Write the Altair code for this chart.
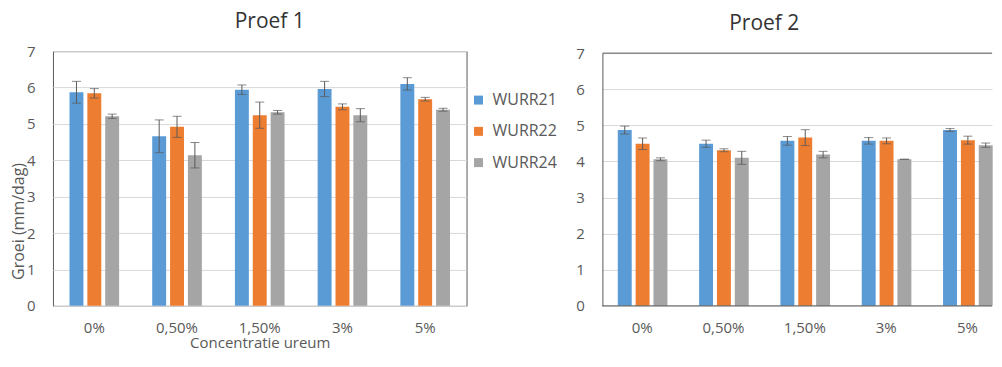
import altair as alt
import pandas as pd

categories = ["0%", "0,50%", "1,50%", "3%", "5%"]
series = ["WURR21", "WURR22", "WURR24"]
colors = ["#5B9BD5", "#ED7D31", "#A5A5A5"]

# Proef 1
p1_wurr21 = [5.87, 4.66, 5.94, 5.96, 6.10]
p1_wurr22 = [5.84, 4.92, 5.24, 5.47, 5.68]
p1_wurr24 = [5.21, 4.14, 5.32, 5.24, 5.39]
p1_err21 = [0.30, 0.45, 0.13, 0.21, 0.17]
p1_err22 = [0.13, 0.29, 0.36, 0.08, 0.05]
p1_err24 = [0.06, 0.35, 0.05, 0.18, 0.04]

# Proef 2
p2_wurr21 = [4.87, 4.49, 4.57, 4.57, 4.87]
p2_wurr22 = [4.49, 4.31, 4.66, 4.57, 4.59]
p2_wurr24 = [4.06, 4.10, 4.19, 4.06, 4.45]
p2_err21 = [0.11, 0.10, 0.12, 0.09, 0.04]
p2_err22 = [0.16, 0.04, 0.22, 0.08, 0.11]
p2_err24 = [0.04, 0.18, 0.09, 0.00, 0.06]

y_ticks = [0, 1, 2, 3, 4, 5, 6, 7]


def build(vals, errs):
    rows = []
    for s, v_list, e_list in zip(series, vals, errs):
        for c, v, e in zip(categories, v_list, e_list):
            rows.append({"conc": c, "ras": s, "v": v, "lo": v - e, "hi": v + e})
    return pd.DataFrame(rows)


df1 = build([p1_wurr21, p1_wurr22, p1_wurr24], [p1_err21, p1_err22, p1_err24])
df2 = build([p2_wurr21, p2_wurr22, p2_wurr24], [p2_err21, p2_err22, p2_err24])

FONT = "Open Sans"
AX = "#595959"
HEIGHT = 255


def panel(df, title, dx, width, left):
    if left:
        x_scale = alt.Scale(paddingInner=0.4, paddingOuter=0.2)
        y_scale = alt.Scale(domain=[0, 7], nice=False)
    else:
        # right panel is cut off by the picture edge: keep the category step
        # of the reference while the plot area ends near the edge
        x_scale = alt.Scale(paddingInner=0.4, paddingOuter=0.0956, align=0.99)
        y_scale = alt.Scale(domain=[0, 7], nice=False, range=[HEIGHT, 2])
    x = alt.X(
        "conc:N", sort=categories, scale=x_scale,
        axis=alt.Axis(
            title="Concentratie ureum" if left else None,
            labelAngle=0, ticks=False, domain=False,
            labelFont=FONT, labelFontSize=15, labelColor=AX, labelPadding=15,
            titleFont=FONT, titleFontSize=15, titleFontWeight="normal",
            titleColor=AX, titlePadding=0,
        ),
    )
    xo = alt.XOffset("ras:N", sort=series, scale=alt.Scale(paddingInner=0.22))
    y_axis_kwargs = dict(
        values=y_ticks, ticks=False, domain=not left, domainColor=AX,
        grid=True, gridColor="#D9D9D9", labelFont=FONT, labelFontSize=15,
        labelColor=AX, labelPadding=18, labelOverlap=False, labelFlush=False,
    )
    if left:
        y_axis = alt.Axis(
            title="Groei (mm/dag)", titleFont=FONT, titleFontSize=16,
            titleFontWeight="normal", titleColor=AX, titleX=-34, titleY=170,
            titleAlign="center", titleBaseline="middle", **y_axis_kwargs,
        )
    else:
        y_axis = alt.Axis(title=None, **y_axis_kwargs)
    y = alt.Y("v:Q", scale=y_scale, axis=y_axis)
    y_lo = alt.Y("lo:Q", scale=y_scale, axis=y_axis)
    y_hi = alt.Y("hi:Q", scale=y_scale, axis=y_axis)

    if left:
        legend = alt.Legend(
            orient="none", legendX=418, legendY=41, title=None,
            symbolType="square", symbolSize=81, symbolStrokeWidth=0,
            labelFont=FONT, labelFontSize=16, labelColor=AX,
            rowPadding=15.3, labelOffset=6, padding=0,
        )
    else:
        legend = None
    color = alt.Color("ras:N", sort=series,
                      scale=alt.Scale(domain=series, range=colors),
                      legend=legend)

    base = alt.Chart(df)
    bars = base.mark_bar().encode(x=x, xOffset=xo, y=y, color=color)
    err = base.mark_rule(color=AX, strokeWidth=1).encode(
        x=x, xOffset=xo, y=y_lo, y2="hi:Q")
    cap_lo = base.mark_tick(color=AX, size=9, thickness=1,
                            orient="horizontal").encode(x=x, xOffset=xo, y=y_lo)
    cap_hi = base.mark_tick(color=AX, size=9, thickness=1,
                            orient="horizontal").encode(x=x, xOffset=xo, y=y_hi)
    layers = [bars, err, cap_lo, cap_hi]
    if not left:
        frame = pd.DataFrame({"edge": [0, 7]})
        border = alt.Chart(frame).mark_rule(color=AX, strokeWidth=1).encode(
            y=alt.Y("edge:Q", scale=y_scale, axis=y_axis),
            x=alt.value(0), x2=alt.value(width))
        layers.append(border)
    view = alt.ViewBackground(stroke=AX, strokeWidth=1) if left else \
        alt.ViewBackground(stroke="transparent")
    return alt.layer(*layers).properties(
        width=width, height=HEIGHT, view=view,
        title=alt.TitleParams(title, font=FONT, fontSize=21,
                              fontWeight="normal", color="#333333",
                              anchor="middle", dx=dx, offset=12.5),
    )


left = panel(df1, "Proef 1", 10, 414, True)
right = panel(df2, "Proef 2", -33, 390, False)

chart = alt.hconcat(left, right, spacing=16).resolve_scale(
    color="independent").resolve_legend(color="independent").properties(
    padding={"left": 2, "top": 2, "right": 0, "bottom": 0}
).configure(background="white")

chart.save("out.html", embed_options={"renderer": "svg", "actions": False})
